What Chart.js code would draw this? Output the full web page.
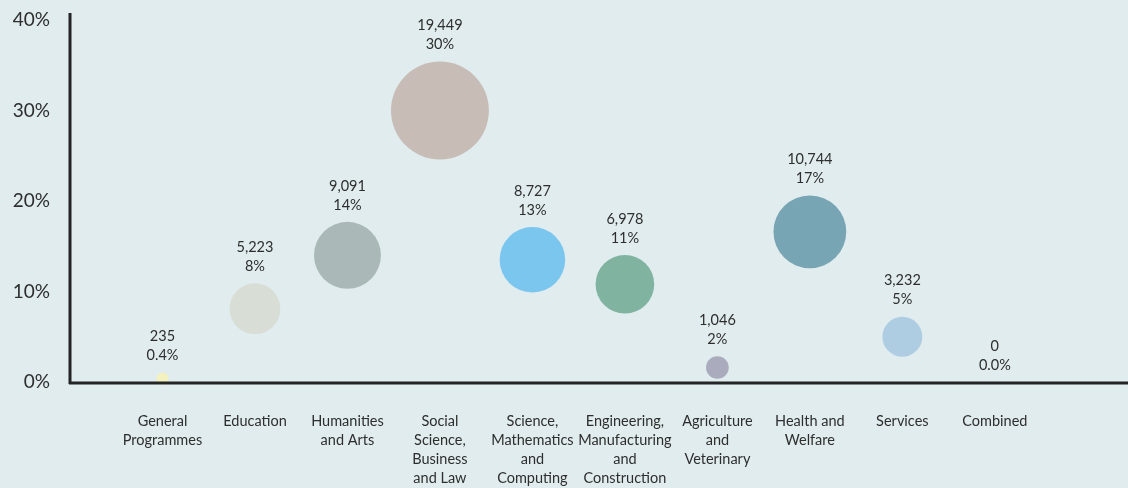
<!DOCTYPE html>
<html>
<head>
<meta charset="utf-8">
<script src="https://cdn.jsdelivr.net/npm/chart.js@4.4.0/dist/chart.umd.min.js"></script>
<style>
html, body { margin: 0; padding: 0; background: #e0ecee; }
#wrap { width: 1128px; height: 488px; }
</style>
</head>
<body>
<div id="wrap"><canvas id="myChart" width="1128" height="488"></canvas></div>
<script>
// Categorias (rótulos do eixo x, já quebrados em linhas)
var categories = [
    ['General', 'Programmes'],
    ['Education'],
    ['Humanities', 'and Arts'],
    ['Social', 'Science,', 'Business', 'and Law'],
    ['Science,', 'Mathematics', 'and', 'Computing'],
    ['Engineering,', 'Manufacturing', 'and', 'Construction'],
    ['Agriculture', 'and', 'Veterinary'],
    ['Health and', 'Welfare'],
    ['Services'],
    ['Combined']
];
// Número de estudantes por área
var students = [235, 5223, 9091, 19449, 8727, 6978, 1046, 10744, 3232, 0];
// Percentual (eixo y)
var shares = [0.4, 8.1, 14.0, 30.0, 13.5, 10.8, 1.6, 16.6, 5.0, 0];
var shareLabels = ['0.4%', '8%', '14%', '30%', '13%', '11%', '2%', '17%', '5%', '0.0%'];
var yTicks = [0, 10, 20, 30, 40];

var bubbleColors = ['#f3f1c0', '#d8ddd6', '#aab9b7', '#c8bcb7', '#7bc6ee',
                    '#80b3a0', '#aaacbd', '#78a5b4', '#aecde3', '#e0ecee'];
var textColor = '#2e2e2e';
var fontFamily = 'Lato, "Open Sans", sans-serif';

// raio proporcional à área (nº de estudantes)
function bubbleRadius(count) {
    return Math.max(0.351 * Math.sqrt(count), count > 0 ? 6 : 0);
}

var points = students.map(function (n, i) {
    return { x: i + 1, y: shares[i], r: bubbleRadius(n) };
});

// Desenha os eixos e os rótulos acima das bolhas
var labelsPlugin = {
    id: 'bubbleLabels',
    afterDatasetsDraw: function (chart) {
        var ctx = chart.ctx;
        var area = chart.chartArea;
        ctx.save();
        ctx.strokeStyle = '#242424';
        ctx.lineWidth = 3;
        ctx.beginPath();
        ctx.moveTo(area.left, 13);
        ctx.lineTo(area.left, area.bottom + 2);
        ctx.moveTo(area.left - 1, area.bottom + 1);
        ctx.lineTo(area.right, area.bottom + 1);
        ctx.stroke();

        ctx.fillStyle = textColor;
        ctx.font = '14.5px ' + fontFamily;
        ctx.textAlign = 'center';
        ctx.textBaseline = 'middle';
        var meta = chart.getDatasetMeta(0);
        meta.data.forEach(function (el, i) {
            var top = el.y - bubbleRadius(students[i]);
            ctx.fillText(shareLabels[i], el.x, top - 17);
            ctx.fillText(students[i].toLocaleString('en-US'), el.x, top - 36);
        });
        ctx.restore();
    }
};

function noPadding(scale) {
    scale.paddingLeft = 0;
    scale.paddingRight = 0;
    scale.paddingTop = 0;
    scale.paddingBottom = 0;
}

var ctx = document.getElementById('myChart').getContext('2d');
var chart = new Chart(ctx, {
    type: 'bubble',
    data: {
        datasets: [{
            data: points,
            backgroundColor: bubbleColors,
            borderWidth: 0,
            hoverBorderWidth: 0,
            clip: false
        }]
    },
    options: {
        responsive: false,
        animation: false,
        layout: { autoPadding: false, padding: { top: 20, right: 0, bottom: 0, left: 0 } },
        plugins: {
            legend: { display: false },
            tooltip: { enabled: false }
        },
        scales: {
            x: {
                type: 'linear',
                min: 0,
                max: 11.44,
                grid: { display: false, drawTicks: false },
                border: { display: false },
                afterFit: function (scale) { scale.height = 106; noPadding(scale); },
                afterBuildTicks: function (scale) {
                    scale.ticks = categories.map(function (c, i) { return { value: i + 1 }; });
                },
                ticks: {
                    padding: 30,
                    color: textColor,
                    font: { family: fontFamily, size: 14.5, lineHeight: 1.31 },
                    maxRotation: 0,
                    autoSkip: false,
                    callback: function (v) { return categories[v - 1] || ''; }
                }
            },
            y: {
                min: 0,
                max: 40,
                grid: { display: false, drawTicks: false },
                border: { display: false },
                afterFit: function (scale) { scale.width = 70; noPadding(scale); },
                afterBuildTicks: function (scale) {
                    scale.ticks = yTicks.map(function (v) { return { value: v }; });
                },
                ticks: {
                    padding: 20,
                    color: textColor,
                    font: { family: fontFamily, size: 19 },
                    callback: function (v) { return v + '%'; }
                }
            }
        }
    },
    plugins: [labelsPlugin]
});
</script>
</body>
</html>
